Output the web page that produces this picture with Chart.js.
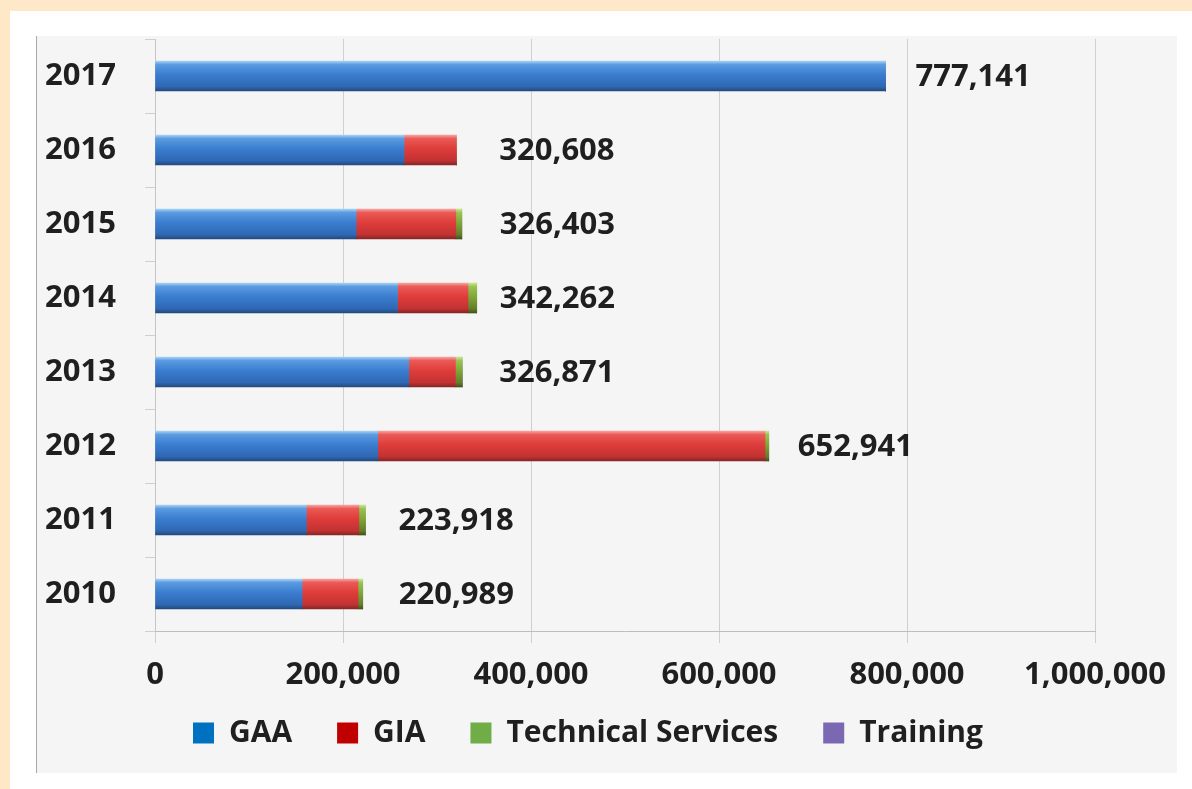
<!DOCTYPE html>
<html>
<head>
<meta charset="utf-8">
<script src="https://cdn.jsdelivr.net/npm/chart.js@4.4.1/dist/chart.umd.min.js"></script>
<style>
  html, body { margin: 0; padding: 0; }
  body { width: 1192px; height: 789px; background: #fee8c7; position: relative; overflow: hidden; }
  #sheet { position: absolute; left: 10px; top: 11px; right: 0; bottom: 0; background: #ffffff; }
  #panel { position: absolute; left: 36px; top: 36px; width: 1141px; height: 737px; background: #f5f5f5; }
  #panel::before { content: ''; position: absolute; left: 0; top: 0; bottom: 0; width: 1px; background: #a9a9a9; }
  #panel canvas { position: absolute; left: 0; top: 0; }
</style>
</head>
<body>
<div id="sheet"></div>
<div id="panel"><canvas id="chart" width="1141" height="737"></canvas></div>
<script>
// Funding by year, stacked by source
const years    = ['2017', '2016', '2015', '2014', '2013', '2012', '2011', '2010'];
const gaa      = [777141, 265000, 214000, 258000, 270000, 237000, 161000, 156500];
const gia      = [0,      55608,  106000, 75000,  49700,  411941, 55900,  59500];
const tech     = [0,      0,      6403,   9262,   7171,   4000,   7018,   4989];
const training = [0,      0,      0,      0,      0,      0,      0,      0];
const seriesNames = ['GAA', 'GIA', 'Technical Services', 'Training'];
const xTicks = [0, 200000, 400000, 600000, 800000, 1000000];

// styling
const legendColors = ['#0070c0', '#c00000', '#70ad47', '#7b68b3'];
const labelGap = [30, 43, 38, 23, 37, 29, 33, 36];   // space between bar end and total label
const BAR_H = 30;
const FONT = '"Open Sans", "Noto Sans", sans-serif';
const INK = '#1f1f1f';

const shades = {
  blue:  [[0, '#a6d2f6'], [0.12, '#5b9be0'], [0.45, '#3b7dd0'], [0.85, '#2f68b4'], [1, '#23497c']],
  red:   [[0, '#f6a4a0'], [0.12, '#ea5a56'], [0.45, '#df3d3b'], [0.85, '#c23232'], [1, '#862626']],
  green: [[0, '#c8e890'], [0.12, '#98c450'], [0.45, '#7fa838'], [0.85, '#647f28'], [1, '#435418']],
  violet:[[0, '#c0b4e4'], [0.45, '#7b68b3'], [1, '#4a3c78']]
};

function barFill(stops) {
  return (ctx) => {
    if (ctx.type !== 'data' || !ctx.chart.scales.y) return stops[2][1];
    const yc = ctx.chart.scales.y.getPixelForValue(ctx.dataIndex);
    const g = ctx.chart.ctx.createLinearGradient(0, yc - BAR_H / 2, 0, yc + BAR_H / 2);
    stops.forEach(([o, c]) => g.addColorStop(o, c));
    return g;
  };
}

const seriesValues = [gaa, gia, tech, training];
const seriesShades = [shades.blue, shades.red, shades.green, shades.violet];

const datasets = seriesNames.map((name, i) => ({
  label: name,
  data: seriesValues[i],
  backgroundColor: barFill(seriesShades[i]),
  borderWidth: 0,
  barThickness: BAR_H
}));

// total written to the right of every bar
const totalsPlugin = {
  id: 'totals',
  afterDatasetsDraw(chart) {
    const { ctx, scales: { x, y } } = chart;
    ctx.save();
    ctx.font = 'bold 31px ' + FONT;
    ctx.fillStyle = INK;
    ctx.textAlign = 'left';
    ctx.textBaseline = 'middle';
    years.forEach((yr, i) => {
      const total = gaa[i] + gia[i] + tech[i] + training[i];
      ctx.fillText(total.toLocaleString('en-US'),
        x.getPixelForValue(total) + labelGap[i], y.getPixelForValue(i) + 1);
    });
    ctx.restore();
  }
};

// move the legend row slightly right and raise its top edge
const legendShift = {
  id: 'legendShift',
  afterLayout(chart) {
    const lg = chart.legend;
    if (!lg) return;
    lg.left += 18;
    lg.right += 18;
    lg.top -= 21;
  }
};

new Chart(document.getElementById('chart'), {
  type: 'bar',
  data: { labels: years, datasets },
  plugins: [totalsPlugin, legendShift],
  options: {
    indexAxis: 'y',
    responsive: false,
    animation: false,
    devicePixelRatio: 1,
    layout: { padding: { left: 9, top: 3, right: 82, bottom: 9 } },
    scales: {
      x: {
        stacked: true,
        min: 0,
        max: 1000000,
        afterBuildTicks(scale) { scale.ticks = xTicks.map(v => ({ value: v })); },
        afterFit(scale) { scale.height = 63; scale.paddingLeft = 0; scale.paddingRight = 0; },
        grid: { color: '#cfcfcf', lineWidth: 1, tickLength: 12, drawTicks: true },
        border: { display: true, color: '#bdbdbd' },
        ticks: {
          padding: 14,
          color: INK,
          font: { family: FONT, size: 31, weight: 'bold' },
          maxRotation: 0,
          callback: (v) => Number(v).toLocaleString('en-US')
        }
      },
      y: {
        stacked: true,
        afterFit(scale) { scale.width = 110; scale.paddingTop = 0; scale.paddingBottom = 0; },
        grid: { offset: true, drawOnChartArea: false, tickLength: 10, color: '#cfcfcf' },
        border: { display: true, color: '#c4c4c4' },
        ticks: {
          crossAlign: 'far',
          color: INK,
          font: { family: FONT, size: 31, weight: 'bold' }
        }
      }
    },
    plugins: {
      tooltip: { enabled: false },
      legend: {
        position: 'bottom',
        maxHeight: 70,
        labels: {
          boxWidth: 21,
          boxHeight: 21,
          padding: 45,
          color: INK,
          font: { family: FONT, size: 30, weight: 'bold' },
          generateLabels(chart) {
            return chart.data.datasets.map((ds, i) => ({
              text: ds.label,
              fillStyle: legendColors[i],
              strokeStyle: legendColors[i],
              lineWidth: 0,
              hidden: false,
              datasetIndex: i,
              fontColor: INK
            }));
          }
        }
      }
    }
  }
});
</script>
</body>
</html>
